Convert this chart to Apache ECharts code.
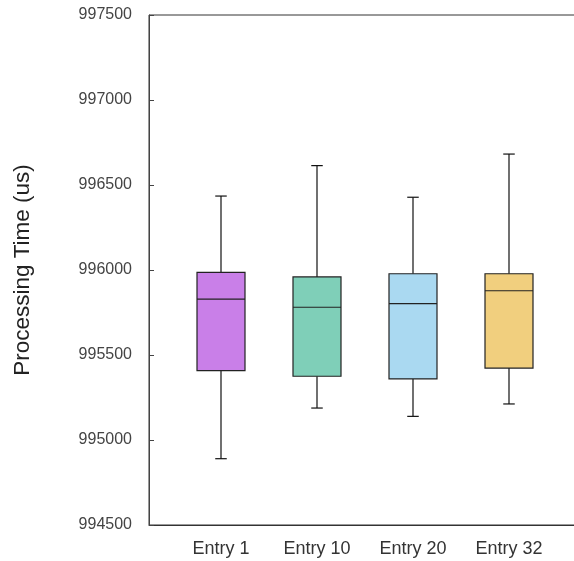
<!DOCTYPE html>
<html>
<head>
<meta charset="utf-8">
<script src="https://cdn.jsdelivr.net/npm/echarts@6/dist/echarts.min.js"></script>
<style>html,body{margin:0;padding:0;background:#fff;}#c{width:574px;height:561px;}</style>
</head>
<body>
<div id="c"></div>
<script>
var categories = ['Entry 1', 'Entry 10', 'Entry 20', 'Entry 32'];
var positions = [1, 2, 3, 4];
var lowWhisker = [994890, 995188, 995139, 995212];
var q1 = [995408, 995375, 995359, 995423];
var median = [995829, 995781, 995802, 995878];
var q3 = [995986, 995959, 995978, 995978];
var highWhisker = [996435, 996614, 996428, 996682];
var colors = ['#c97fe8', '#7fcfb8', '#aad9f1', '#f1cf7e'];
var yTicks = [994500, 995000, 995500, 996000, 996500, 997000, 997500];

var data = positions.map(function (p, i) {
  return [p, lowWhisker[i], q1[i], median[i], q3[i], highWhisker[i], i];
});

var chart = echarts.init(document.getElementById('c'));
var BOX_W = 0.5, CAP_W = 0.12;
var FONT = 'Liberation Sans, Arial, sans-serif';

function renderItem(params, api) {
  var x = api.value(0);
  var idx = api.value(6);
  var pLow = api.coord([x, api.value(1)]);
  var pQ1 = api.coord([x, api.value(2)]);
  var pMed = api.coord([x, api.value(3)]);
  var pQ3 = api.coord([x, api.value(4)]);
  var pHigh = api.coord([x, api.value(5)]);
  var bw = api.size([BOX_W, 0])[0];
  var cw = api.size([CAP_W, 0])[0];
  var cx = pMed[0];
  var lineStyle = { stroke: '#111', lineWidth: 1.2 };
  return {
    type: 'group',
    children: [
      { type: 'line', shape: { x1: cx, y1: pQ3[1], x2: cx, y2: pHigh[1] }, style: lineStyle },
      { type: 'line', shape: { x1: cx, y1: pQ1[1], x2: cx, y2: pLow[1] }, style: lineStyle },
      { type: 'line', shape: { x1: cx - cw / 2, y1: pHigh[1], x2: cx + cw / 2, y2: pHigh[1] }, style: lineStyle },
      { type: 'line', shape: { x1: cx - cw / 2, y1: pLow[1], x2: cx + cw / 2, y2: pLow[1] }, style: lineStyle },
      { type: 'rect', shape: { x: cx - bw / 2, y: pQ3[1], width: bw, height: pQ1[1] - pQ3[1] },
        style: { fill: colors[idx], stroke: '#222', lineWidth: 1.2 } },
      { type: 'line', shape: { x1: cx - bw / 2, y1: pMed[1], x2: cx + bw / 2, y2: pMed[1] }, style: { stroke: '#222', lineWidth: 1.2 } }
    ]
  };
}

chart.setOption({
  animation: false,
  grid: { left: 149, top: 15, bottom: 36, width: 432, outerBoundsMode: 'none', containLabel: false,
          show: true, borderColor: '#333', borderWidth: 1, backgroundColor: 'transparent' },
  xAxis: {
    type: 'value', min: 0.25, max: 4.75,
    splitLine: { show: false },
    axisLine: { show: true, lineStyle: { color: '#333' } },
    axisTick: { show: false },
    axisLabel: {
      customValues: positions,
      formatter: function (v) { var i = positions.indexOf(v); return i >= 0 ? categories[i] : ''; },
      color: '#333', fontSize: 18, fontFamily: FONT, margin: 15
    }
  },
  yAxis: {
    type: 'value', min: 994500, max: 997500, interval: 500,
    name: 'Processing Time (us)', nameLocation: 'middle', nameGap: 115,
    nameTextStyle: { color: '#222', fontSize: 22.5, fontFamily: FONT },
    splitLine: { show: false },
    axisLine: { show: true, lineStyle: { color: '#444' } },
    axisTick: { show: true, inside: true, length: 5, lineStyle: { color: '#444' } },
    axisLabel: {
      customValues: yTicks,
      formatter: function (v) { return String(v); },
      color: '#444', fontSize: 16, fontFamily: FONT, margin: 17
    }
  },
  series: [{
    type: 'custom',
    renderItem: renderItem,
    encode: { x: 0, y: [1, 2, 3, 4, 5] },
    data: data
  }]
});
</script>
</body>
</html>
